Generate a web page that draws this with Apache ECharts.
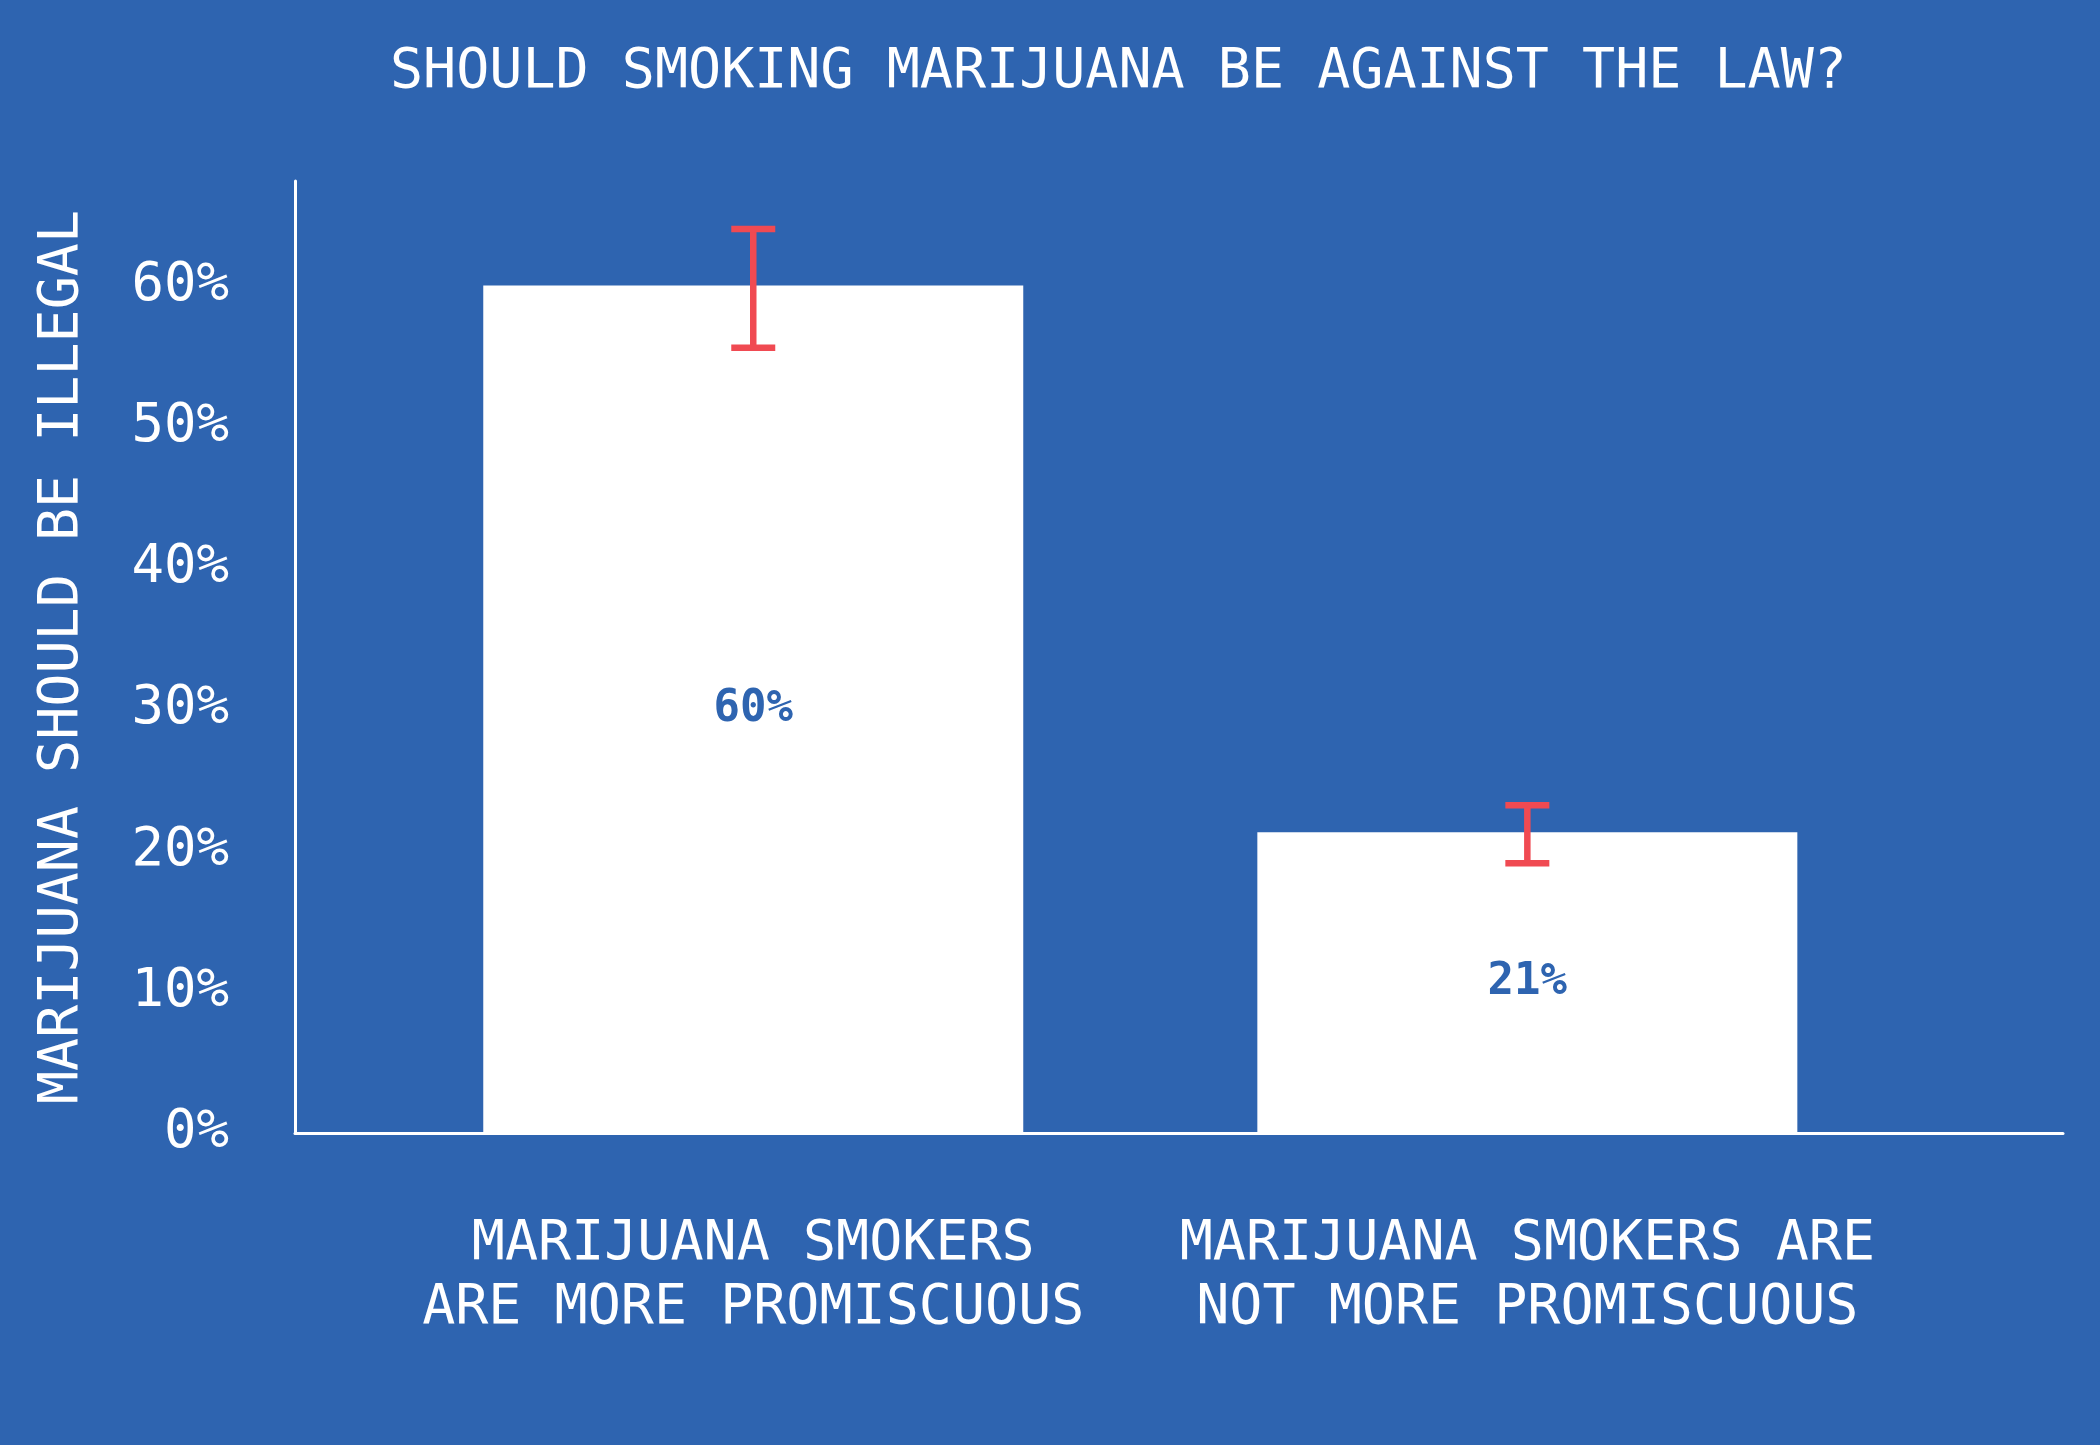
<!DOCTYPE html>
<html>
<head>
<meta charset="utf-8">
<script src="https://cdn.jsdelivr.net/npm/echarts@6/dist/echarts.min.js"></script>
<style>
html,body{margin:0;padding:0;background:#2e64b0;}
#chart{width:2100px;height:1445px;}
</style>
</head>
<body>
<div id="chart"></div>
<script>
const titleText = 'SHOULD SMOKING MARIJUANA BE AGAINST THE LAW?';
const yAxisName = 'MARIJUANA SHOULD BE ILLEGAL';
const categories = ['MARIJUANA SMOKERS\nARE MORE PROMISCUOUS', 'MARIJUANA SMOKERS ARE\nNOT MORE PROMISCUOUS'];
const positions = [0, 1];
const values = [60, 21.3];
const errLow = [55.6, 19.1];
const errHigh = [64.0, 23.2];

const BG = '#2e64b0';
const RED = '#f04a52';
const FONT = '"DejaVu Sans Mono", "Liberation Mono", monospace';

const chart = echarts.init(document.getElementById('chart'));
chart.setOption({
  backgroundColor: BG,
  animation: false,
  title: {
    text: titleText,
    left: 385,
    top: 40,
    textStyle: { color: '#fff', fontFamily: FONT, fontSize: 55, fontWeight: 'normal' }
  },
  grid: { left: 295, right: 37, top: 181, bottom: 312 },
  xAxis: {
    type: 'value',
    min: -0.592,
    max: 1.692,
    axisLine: { show: true, lineStyle: { color: '#fff', width: 3 } },
    axisTick: { show: false },
    splitLine: { show: false },
    axisLabel: {
      customValues: positions,
      formatter: v => categories[Math.round(v)] || '',
      color: '#fff',
      fontFamily: FONT,
      fontSize: 55,
      lineHeight: 64,
      margin: 80,
      align: 'center'
    }
  },
  yAxis: {
    type: 'value',
    min: 0,
    max: 67.4,
    interval: 10,
    name: yAxisName,
    nameLocation: 'middle',
    nameRotate: 90,
    nameGap: 205,
    nameTextStyle: { color: '#fff', fontFamily: FONT, fontSize: 55 },
    axisLine: { show: true, onZero: false, lineStyle: { color: '#fff', width: 3 } },
    axisTick: { show: false },
    splitLine: { show: false },
    axisLabel: {
      formatter: '{value}%',
      color: '#fff',
      fontFamily: FONT,
      fontSize: 54,
      margin: 66,
      showMaxLabel: false
    }
  },
  series: [
    {
      type: 'bar',
      data: positions.map((p, i) => [p, values[i]]),
      barWidth: 540,
      itemStyle: { color: '#fff' },
      label: {
        show: true,
        position: 'inside',
        formatter: p => Math.round(p.value[1]) + '%',
        color: BG,
        fontFamily: FONT,
        fontWeight: 'bold',
        fontSize: 44
      },
      z: 2
    },
    {
      type: 'custom',
      data: positions.map((p, i) => [p, errLow[i], errHigh[i]]),
      renderItem: function (params, api) {
        const x = api.value(0);
        const lo = api.coord([x, api.value(1)]);
        const hi = api.coord([x, api.value(2)]);
        const hw = 22;
        const style = { stroke: RED, lineWidth: 6.5 };
        return {
          type: 'group',
          children: [
            { type: 'line', shape: { x1: lo[0], y1: lo[1], x2: hi[0], y2: hi[1] }, style: style },
            { type: 'line', shape: { x1: hi[0] - hw, y1: hi[1], x2: hi[0] + hw, y2: hi[1] }, style: style },
            { type: 'line', shape: { x1: lo[0] - hw, y1: lo[1], x2: lo[0] + hw, y2: lo[1] }, style: style }
          ]
        };
      },
      z: 5
    }
  ]
});
</script>
</body>
</html>
